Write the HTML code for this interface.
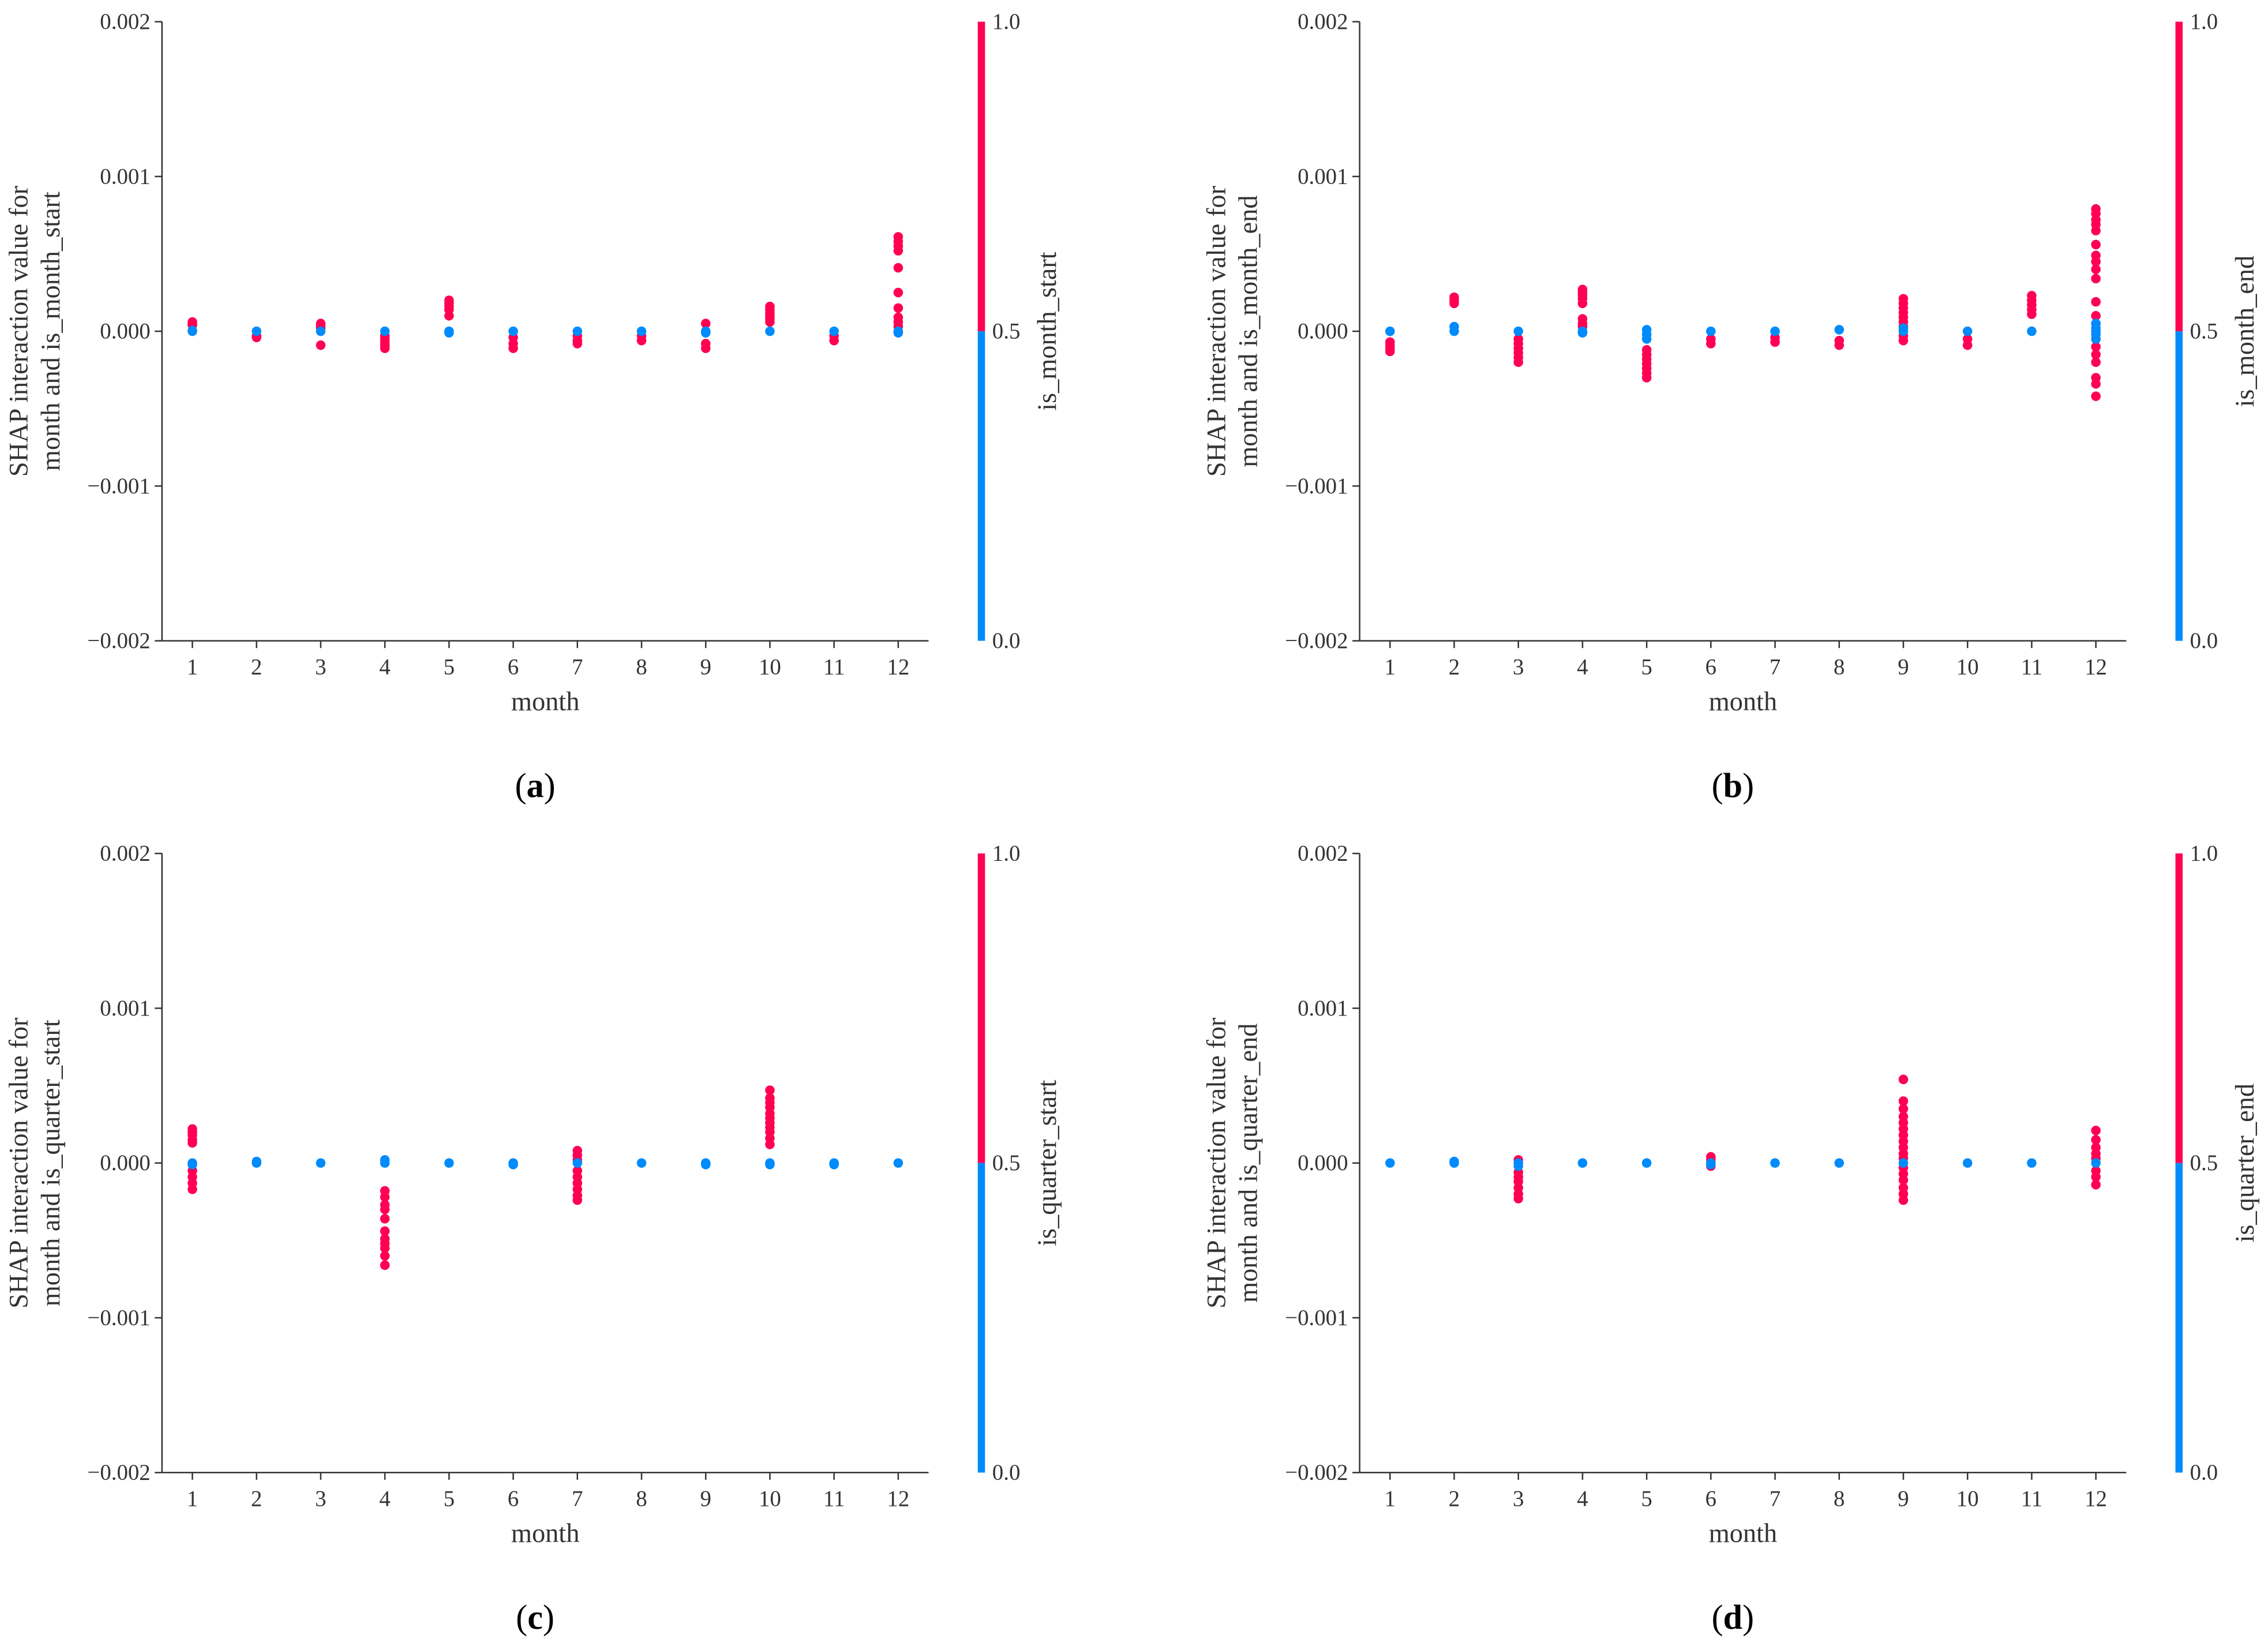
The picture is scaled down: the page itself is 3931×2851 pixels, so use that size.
<!DOCTYPE html>
<html><head><meta charset="utf-8"><style>
html,body{margin:0;padding:0;background:#fff;}
svg{display:block;font-family:"Liberation Serif","DejaVu Serif",serif;}
svg text{font-family:"Liberation Serif","DejaVu Serif",serif;}
</style></head><body>
<svg id="fig" width="3931" height="2851" viewBox="0 0 1568 1137.2" xmlns="http://www.w3.org/2000/svg"></svg>
<script>
const months = [1,2,3,4,5,6,7,8,9,10,11,12];
const yTicks = [0.002,0.001,0,-0.001,-0.002];
const yTickLabels = ["0.002","0.001","0.000","\u22120.001","\u22120.002"];
const cbTickLabels = ["1.0","0.5","0.0"];
const panelIds = ["a","b","c","d"];
const featureNames = ["is_month_start","is_month_end","is_quarter_start","is_quarter_end"];
// values in units of 1e-4; red = feature value 1, blue = 0
const redA = {1:[0.6,0.4,0.5],2:[-0.3,-0.4],3:[0.5,0.3,0.2,-0.9],4:[-0.3,-0.5,-0.7,-0.9,-1.1],5:[2.0,1.8,1.6,1.4,1.0],6:[-0.4,-0.8,-1.1],7:[-0.3,-0.6,-0.8],8:[-0.3,-0.6],9:[0.5,-0.8,-1.1],10:[1.6,1.4,1.2,1.0,0.8,0.6],11:[-0.3,-0.6],12:[6.1,5.8,5.5,5.2,4.1,2.5,1.5,0.9,0.6,0.3]};
const blueA = {1:[0,0.05],2:[0],3:[0],4:[0],5:[0,-0.1],6:[0],7:[0],8:[0],9:[0,-0.1],10:[0],11:[0],12:[0,-0.1]};
const redB = {1:[-0.7,-0.9,-1.1,-1.3],2:[2.2,2.0,1.8],3:[-0.5,-0.8,-1.1,-1.4,-1.7,-2.0],4:[2.7,2.5,2.3,2.1,1.8,0.8,0.5,0.3],5:[-1.2,-1.5,-1.8,-2.1,-2.4,-2.7,-3.0],6:[-0.5,-0.8],7:[-0.4,-0.7],8:[-0.6,-0.9],9:[2.1,1.8,1.5,1.2,0.9,0.6,0.3,-0.3,-0.6],10:[-0.5,-0.9],11:[2.3,2.0,1.7,1.4,1.1],12:[7.9,7.6,7.2,6.9,6.5,5.6,4.9,4.5,4.0,3.4,1.9,1.0,0.5,-0.5,-1.0,-1.5,-2.0,-3.0,-3.4,-4.2]};
const blueB = {1:[0],2:[0.3,0],3:[0],4:[0,-0.1],5:[0.1,-0.2,-0.5],6:[0],7:[0],8:[0.1],9:[0.2,0],10:[0],11:[0],12:[0.5,0.2,0,-0.2,-0.5]};
const redC = {1:[2.2,2.0,1.8,1.5,1.3,-0.5,-0.9,-1.3,-1.7],4:[-1.8,-2.2,-2.7,-3.0,-3.6,-4.4,-4.9,-5.2,-5.5,-6.0,-6.6],7:[0.8,0.5,0.2,-0.5,-0.9,-1.3,-1.7,-2.1,-2.4],10:[4.7,4.2,3.9,3.6,3.2,2.9,2.6,2.3,2.0,1.6,1.2]};
const blueC = {1:[0,-0.1],2:[0.1,0],3:[0],4:[0.2,0],5:[0],6:[0,-0.1],7:[0],8:[0],9:[0,-0.1],10:[0,-0.1],11:[0,-0.1],12:[0]};
const redD = {3:[0.2,-0.6,-0.9,-1.2,-1.6,-2.0,-2.3],6:[0.4,0.2,-0.2],9:[5.4,4.0,3.5,3.0,2.6,2.2,1.8,1.4,1.0,0.6,0.3,-0.3,-0.7,-1.1,-1.6,-2.0,-2.4],12:[2.1,1.5,1.0,0.6,0.3,-0.5,-0.9,-1.4]};
const blueD = {1:[0],2:[0.1,0],3:[0,-0.2],4:[0],5:[0],6:[0,-0.1],7:[0],8:[0],9:[0],10:[0],11:[0],12:[0]};
const reds = [redA,redB,redC,redD];
const blues = [blueA,blueB,blueC,blueD];

const NS="http://www.w3.org/2000/svg";
const svg=document.getElementById('fig');
const RED="#ff0052", BLUE="#008bfb", AX="#333";
const FF='"Liberation Serif","DejaVu Serif",serif';
function mk(tag,attrs,parent){const e=document.createElementNS(NS,tag);for(const k in attrs)e.setAttribute(k,attrs[k]);if(tag==='text')e.setAttribute('font-family',FF);(parent||svg).appendChild(e);return e;}
const offs=[[0,0],[828,0],[0,575],[828,575]];
for(let p=0;p<4;p++){
  const [dx,dy]=offs[p];
  const g=mk('g',{transform:`translate(${dx},${dy})`});
  
  
  const top=15,bot=443,left=112,right=642;
  const xS=m=>133+(m-1)*(621-133)/11;
  const yS=v=>229-v*(214/0.002);
  const ya=mk('line',{x1:left,y1:top,x2:left,y2:bot,stroke:AX,'stroke-width':1},g);
  
  const xa=mk('line',{x1:left,y1:bot,x2:right,y2:bot,stroke:AX,'stroke-width':1},g);
  
  yTicks.forEach((v,i)=>{
    const y=yS(v);
    mk('line',{x1:left-5,y1:y,x2:left,y2:y,stroke:AX,'stroke-width':1},g);
    const t=mk('text',{x:left-8,y:y+5,'text-anchor':'end','font-size':15.5,fill:'#333'},g);
    t.textContent=yTickLabels[i];
    
  });
  months.forEach(m=>{
    const x=xS(m);
    mk('line',{x1:x,y1:bot,x2:x,y2:bot+5,stroke:AX,'stroke-width':1},g);
    const t=mk('text',{x:x,y:bot+23,'text-anchor':'middle','font-size':15.5,fill:'#333'},g);
    t.textContent=String(m);
    
  });
  const xt=mk('text',{x:377,y:491,'text-anchor':'middle','font-size':18.5,fill:'#333'},g);
  xt.textContent='month';
  
  const yt=mk('text',{transform:'translate(19,229) rotate(-90)','text-anchor':'middle','font-size':18.5,fill:'#333'},g);
  
  const t1=mk('tspan',{x:0,y:0},yt);t1.textContent='SHAP interaction value for';
  const t2=mk('tspan',{x:0,y:22},yt);t2.textContent='month and '+featureNames[p];
  const cr=mk('rect',{x:676,y:top,width:5,height:214,fill:RED},g);
  
  const cb=mk('rect',{x:676,y:229,width:5,height:214,fill:BLUE},g);
  
  [top,229,bot].forEach((y,i)=>{
    const t=mk('text',{x:686,y:y+5,'font-size':15.5,fill:'#333'},g);
    t.textContent=cbTickLabels[i];
    
  });
  const ct=mk('text',{transform:'translate(730,229) rotate(-90)','text-anchor':'middle','font-size':18.5,fill:'#333'},g);
  ct.textContent=featureNames[p];
  
  const drawSet=(set,col,name)=>{
    for(const k in set){set[k].forEach(v=>{
      const c=mk('ellipse',{cx:xS(+k),cy:yS(v*1e-4),rx:3.3,ry:3.3,fill:col},g);
      
    });}
  };
  drawSet(reds[p],RED,'point-high');
  drawSet(blues[p],BLUE,'point-low');
  const lt=mk('text',{x:370,y:551,'text-anchor':'middle','font-size':24,fill:'#000'},g);
  
  const a1=mk('tspan',{},lt);a1.textContent='(';
  const a2=mk('tspan',{'font-weight':'bold'},lt);a2.textContent=panelIds[p];
  const a3=mk('tspan',{},lt);a3.textContent=')';
}
</script>
</body></html>
